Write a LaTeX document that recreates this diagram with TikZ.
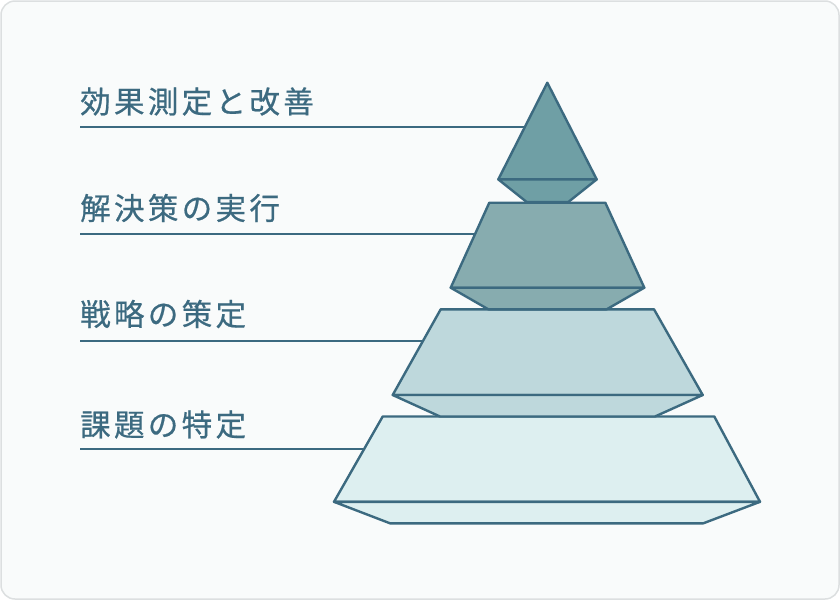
\documentclass[tikz,border=0pt]{standalone}
\usepackage{fontspec}
\newfontfamily\cjk{Noto Sans CJK JP}[LetterSpace=11,FakeBold=0.6]
\definecolor{bg}{HTML}{F9FBFB}
\definecolor{frame}{HTML}{DCDFE0}
\definecolor{ink}{HTML}{3C6A80}
\definecolor{fillA}{HTML}{6F9FA5}
\definecolor{fillB}{HTML}{87ACAF}
\definecolor{fillC}{HTML}{BED8DC}
\definecolor{fillD}{HTML}{DDEFF0}
\tikzset{
  label/.style={anchor=west, inner sep=0pt, text=ink, font=\cjk\fontsize{30.5}{36}\selectfont},
  leader/.style={draw=ink, line width=2.3pt},
  slab/.style={draw=ink, line width=2.4pt, line join=round},
}
\begin{document}
\begin{tikzpicture}[x=1pt,y=-1pt]
\useasboundingbox (0,0) rectangle (840,600);
\draw[rounded corners=14pt, fill=bg, draw=frame, line width=1.5pt] (1,1) rectangle (839,599);

% labels
\node[label] (t1) at (80,101.5) {効果測定と改善};
\node[label] (t2) at (80,208) {解決策の実行};
\node[label] (t3) at (80,314) {戦略の策定};
\node[label] (t4) at (80,424.5) {課題の特定};

% leader lines
\coordinate (s1) at (80,127.3); \coordinate (e1) at (527,127.3);
\coordinate (s2) at (80,234.3); \coordinate (e2) at (477,234.3);
\coordinate (s3) at (80,341);   \coordinate (e3) at (425,341);
\coordinate (s4) at (80,449.3); \coordinate (e4) at (366,449.3);
\draw[leader] (s1) -- (e1);
\draw[leader] (s2) -- (e2);
\draw[leader] (s3) -- (e3);
\draw[leader] (s4) -- (e4);

% tier 4 (bottom)
\draw[slab, fill=fillD] (382.7,416.5) -- (714.3,416.5) -- (760,501.8) -- (334,501.8) -- cycle;
\draw[slab, fill=fillD] (334,501.8) -- (760,501.8) -- (703.3,523.3) -- (390,523.3) -- cycle;

% tier 3
\draw[slab, fill=fillC] (440.7,309.3) -- (654,309.3) -- (702.7,395) -- (392.7,395) -- cycle;
\draw[slab, fill=fillC] (392.7,395) -- (702.7,395) -- (655,416.5) -- (440,416.5) -- cycle;

% tier 2
\draw[slab, fill=fillB] (489.3,202.7) -- (605.3,202.7) -- (644.3,287.7) -- (450.7,287.7) -- cycle;
\draw[slab, fill=fillB] (450.7,287.7) -- (644.3,287.7) -- (606.7,309.3) -- (488.3,309.3) -- cycle;

% tier 1 (top)
\draw[slab, fill=fillA] (547.3,82.7) -- (596.7,179.4) -- (498.3,179.4) -- cycle;
\draw[slab, fill=fillA] (498.3,179.4) -- (596.7,179.4) -- (568.3,202) -- (526.7,202) -- cycle;
\end{tikzpicture}
\end{document}
